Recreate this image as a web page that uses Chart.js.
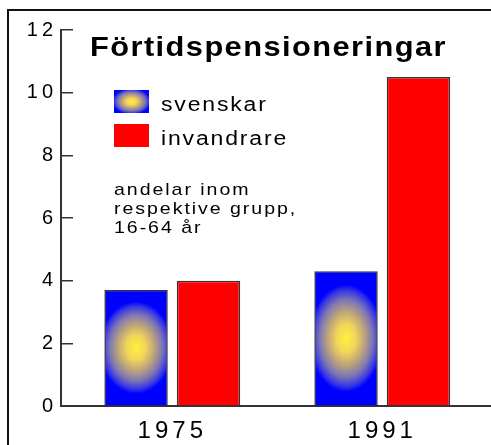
<!DOCTYPE html>
<html><head><meta charset="utf-8">
<script src="https://cdn.jsdelivr.net/npm/chart.js@4/dist/chart.umd.min.js"></script>
<style>
html,body{margin:0;padding:0;background:#fff;overflow:hidden}
#wrap{position:relative;width:491px;height:445px;overflow:hidden}
#c{position:absolute;left:0;top:0}
#frame{position:absolute;left:7px;top:9px;width:600px;height:600px;border-top:2px solid #111;border-left:2px solid #111;pointer-events:none}
.ov{position:absolute;font-family:"Liberation Sans",Arial,Helvetica,sans-serif;color:#000;white-space:nowrap;pointer-events:none;transform-origin:0 0}
#title{left:90px;top:33px;font-weight:bold;font-size:28px;line-height:28px;letter-spacing:1.3px;transform:scaleX(1.1)}
.leg{position:absolute;left:114px;width:35px;height:23px}
.legtxt{left:161px;font-size:20px;line-height:20px;letter-spacing:1.6px;transform:scaleX(1.15)}
#note{left:114px;top:180px;font-size:17px;line-height:19px;letter-spacing:1.7px;transform:scaleX(1.15)}
</style>
</head><body>
<div id="wrap">
<canvas id="c" width="491" height="445"></canvas>
<div id="frame"></div>
<div id="title" class="ov"></div>
<div id="sw0" class="leg" style="top:90px"></div>
<div id="sw1" class="leg" style="top:124px"></div>
<div id="lt0" class="ov legtxt" style="top:94px"></div>
<div id="lt1" class="ov legtxt" style="top:128px"></div>
<div id="note" class="ov"></div>
</div>
<script>
// ---- data ----
const categories = ['1975', '1991'];
const seriesLabels = ['svenskar', 'invandrare'];
const svenskar = [3.7, 4.3];
const invandrare = [4.0, 10.5];
const yTicks = [0, 2, 4, 6, 8, 10, 12];
const titleText = 'Förtidspensioneringar';
const noteLines = ['andelar inom', 'respektive grupp,', '16-64 år'];

const BLUE = '#0000ff', RED = '#ff0000';
const glowStops = [[0, '#fff03a'], [0.26, '#f2d65a'], [0.5, '#bda47a'], [0.72, '#7c76b4'], [0.9, '#3434e6'], [1, BLUE]];

// overlay texts
document.getElementById('title').textContent = titleText;
document.getElementById('lt0').textContent = seriesLabels[0];
document.getElementById('lt1').textContent = seriesLabels[1];
document.getElementById('note').innerHTML = noteLines.map(s => s.replace(/&/g,'&amp;').replace(/</g,'&lt;')).join('<br>');
document.getElementById('sw0').style.background =
  'radial-gradient(ellipse 19px 13px at 50% 50%, ' + glowStops.map(s => s[1] + ' ' + (s[0]*100) + '%').join(', ') + ')';
document.getElementById('sw1').style.background = RED;

const SPACING = '4px';
const spacingPlugin = {
  id: 'spacing',
  beforeUpdate(chart) { chart.ctx.letterSpacing = SPACING; },
  beforeDraw(chart) { chart.ctx.letterSpacing = SPACING; }
};

const glowPlugin = {
  id: 'glow',
  afterDatasetDraw(chart, args) {
    if (args.index !== 0) return;
    const ctx = chart.ctx;
    args.meta.data.forEach(el => {
      const p = el.getProps(['x', 'y', 'base', 'width'], true);
      const bw = 1.5;
      const left = p.x - p.width / 2 + bw, right = p.x + p.width / 2 - bw;
      const top = p.y + bw, bottom = p.base;
      const cx = p.x, cy = (p.y + p.base) / 2;
      const rx = p.width * 0.58, ry = (p.base - p.y) * 0.4;
      ctx.save();
      ctx.beginPath(); ctx.rect(left, top, right - left, bottom - top); ctx.clip();
      ctx.translate(cx, cy); ctx.scale(1, ry / rx);
      const g = ctx.createRadialGradient(0, 0, 0, 0, 0, rx);
      glowStops.forEach(s => g.addColorStop(s[0], s[1]));
      ctx.fillStyle = g;
      ctx.fillRect(-rx * 3, -rx * 3, rx * 6, rx * 6);
      ctx.restore();
    });
  }
};

new Chart(document.getElementById('c'), {
  type: 'bar',
  data: {
    datasets: [
      { label: seriesLabels[0], data: svenskar.map((v, i) => ({ x: i, y: v })), backgroundColor: BLUE, borderColor: '#333', borderWidth: 1.5 },
      { label: seriesLabels[1], data: invandrare.map((v, i) => ({ x: i, y: v })), backgroundColor: RED, borderColor: '#333', borderWidth: 1.5 }
    ]
  },
  options: {
    responsive: false,
    animation: false,
    layout: { padding: { top: 30, left: 0, right: 0, bottom: 0 } },
    categoryPercentage: 0.69,
    barPercentage: 0.875,
    plugins: { legend: { display: false }, tooltip: { enabled: false }, title: { display: false } },
    scales: {
      x: {
        type: 'linear', offset: false, min: -0.53, max: 1.518,
        afterBuildTicks: s => { s.ticks = categories.map((c, i) => ({ value: i })); },
        afterFit: s => { s.height = 39; },
        ticks: { callback: v => categories[v], font: { family: 'Liberation Sans', size: 24 }, color: '#000', padding: 11, maxRotation: 0 },
        grid: { display: true, drawOnChartArea: false, drawTicks: false, offset: false },
        border: { display: true, color: '#333', width: 2 }
      },
      y: {
        min: 0, max: 12,
        afterBuildTicks: s => { s.ticks = yTicks.map(v => ({ value: v })); },
        afterFit: s => { s.width = 61; },
        ticks: { font: { family: 'Liberation Sans', size: 20 }, color: '#000', padding: 16 },
        grid: { drawOnChartArea: false, drawTicks: true, tickLength: -12, color: '#333', lineWidth: 1.5 },
        border: { display: true, color: '#333', width: 2 }
      }
    }
  },
  plugins: [spacingPlugin, glowPlugin]
});
</script>
</body></html>
